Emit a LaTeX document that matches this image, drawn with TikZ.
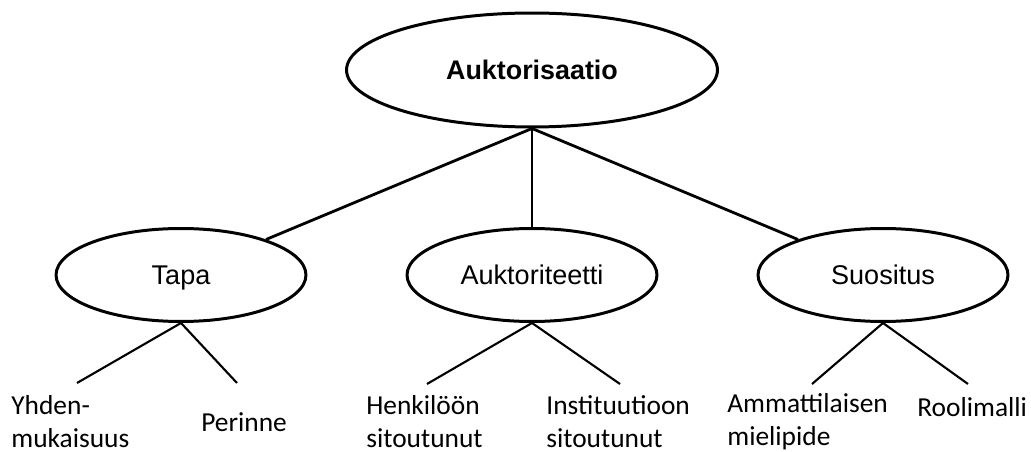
\documentclass[tikz,border=0pt]{standalone}
\usepackage{fontspec}
\newfontfamily\arialfont{Liberation Sans}
\newfontfamily\calibrifont{Carlito}
\usetikzlibrary{shapes.geometric}

\begin{document}
\begin{tikzpicture}[
    x=0.02cm,y=-0.02cm,
    root/.style={ellipse,draw,line width=1.7pt,fill=white,
      minimum width=7.42cm,minimum height=2.28cm,
      text height=11pt,text depth=0pt,
      font=\arialfont\bfseries\fontsize{15.3}{18}\selectfont},
    facet/.style={ellipse,draw,line width=1.7pt,fill=white,
      minimum width=5.0cm,minimum height=1.86cm,
      text height=11pt,text depth=0pt,
      font=\arialfont\fontsize{15.4}{18}\selectfont},
    branchedge/.style={line width=1.6pt},
    leafedge/.style={line width=1.2pt},
    leaf/.style={anchor=base west,align=left,inner sep=0pt,
      font=\calibrifont\fontsize{15.6}{18.3}\selectfont}
  ]
  \useasboundingbox (0,0) rectangle (1031,452);

  % ellipses
  \node[root] (a) at (532,70) {Auktorisaatio};
  \node[facet] (t) at (181,275) {Tapa};
  \node[facet] (k) at (532,275) {Auktoriteetti};
  \node[facet] (s) at (883,275) {Suositus};

  \draw[branchedge] (a.south) -- (t);
  \draw[branchedge] (a.south) -- (k.north);
  \draw[branchedge] (a.south) -- (s);

  % leaves
  \coordinate (t1) at (77,383);
  \coordinate (t2) at (237,383);
  \coordinate (k1) at (427,384);
  \coordinate (k2) at (620,384);
  \coordinate (s1) at (812,384);
  \coordinate (s2) at (968,384);

  \draw[leafedge] (t.south) -- (t1);
  \draw[leafedge] (t.south) -- (t2);
  \draw[leafedge] (k.south) -- (k1);
  \draw[leafedge] (k.south) -- (k2);
  \draw[leafedge] (s.south) -- (s1);
  \draw[leafedge] (s.south) -- (s2);

  % base of a two-line leaf is its last line
  \node[leaf] (lt1) at (11,447) {Yhden-\\mukaisuus};
  \node[leaf] (lt2) at (201,431) {Perinne};
  \node[leaf] (lk1) at (366,447) {Henkilöön\\sitoutunut};
  \node[leaf] (lk2) at (546,447) {Instituutioon\\sitoutunut};
  \node[leaf] (ls1) at (727,445) {Ammattilaisen\\mielipide};
  \node[leaf] (ls2) at (917,417) {Roolimalli};
\end{tikzpicture}
\end{document}
